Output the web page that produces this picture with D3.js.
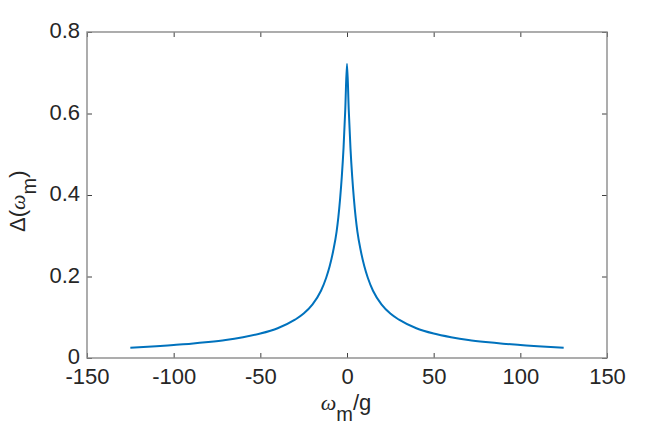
<!DOCTYPE html>
<html><head><meta charset="utf-8">
<script src="https://cdn.jsdelivr.net/npm/d3@7"></script>
<style>body{margin:0;background:#fff;} text{font-family:"Liberation Sans",Arial,Helvetica,sans-serif;}</style>
</head><body>
<svg id="c" width="671" height="427"></svg>
<script>
const xValues = [-125,-110,-100,-90,-80,-70,-60,-50,-40,-30,-25,-20,-15,-12,-10,-8,-6,-5,-4,-3,-2,-1,0,1,2,3,4,5,6,8,10,12,15,20,25,30,40,50,60,70,80,90,100,110,125];
const yValues = [0.025,0.029,0.032,0.035,0.039,0.044,0.051,0.060,0.073,0.094,0.109,0.131,0.165,0.197,0.225,0.262,0.31,0.345,0.39,0.445,0.515,0.61,0.722,0.61,0.515,0.445,0.39,0.345,0.31,0.262,0.225,0.197,0.165,0.131,0.109,0.094,0.073,0.060,0.051,0.044,0.039,0.035,0.032,0.029,0.025];
const xTicks = [-150,-100,-50,0,50,100,150];
const yTicks = [0,0.2,0.4,0.6,0.8];

const svg = d3.select("#c");
const L=87,R=607,T=32,B=358;
const x = d3.scaleLinear().domain([-150,150]).range([L,R]);
const y = d3.scaleLinear().domain([0,0.8]).range([B,T]);
const fmt = d => (d<0?"-":"")+Math.abs(d);
const tc="#262626";

function styleAxis(g, labels){
  g.select(".domain").remove();
  g.selectAll(".tick line").attr("stroke","#404040").attr("stroke-width",1);
  g.selectAll(".tick text").attr("fill",tc).attr("font-size",22);
  if(!labels) g.selectAll(".tick text").remove();
}
svg.append("g").attr("transform",`translate(0,${B})`)
  .call(d3.axisBottom(x).tickValues(xTicks).tickFormat(fmt).tickSizeInner(-5).tickSizeOuter(0).tickPadding(10))
  .call(g=>styleAxis(g,true));
svg.append("g").attr("transform",`translate(0,${T})`)
  .call(d3.axisTop(x).tickValues(xTicks).tickSizeInner(-5).tickSizeOuter(0))
  .call(g=>styleAxis(g,false));
svg.append("g").attr("transform",`translate(${L},0)`)
  .call(d3.axisLeft(y).tickValues(yTicks).tickFormat(d=>d===0?"0":d3.format(".1f")(d)).tickSizeInner(-5).tickSizeOuter(0).tickPadding(7))
  .call(g=>styleAxis(g,true))
  .call(g=>g.selectAll(".tick text").attr("dy","0.25em"));
svg.append("g").attr("transform",`translate(${R},0)`)
  .call(d3.axisRight(y).tickValues(yTicks).tickSizeInner(-5).tickSizeOuter(0))
  .call(g=>styleAxis(g,false));

svg.append("rect").attr("x",L).attr("y",T).attr("width",R-L).attr("height",B-T)
  .attr("fill","none").attr("stroke","#8a8a8a").attr("stroke-width",1.4);

const data = xValues.map((d,i)=>[d,yValues[i]]);
svg.append("path").datum(data)
  .attr("fill","none").attr("stroke","#0072BD").attr("stroke-width",2)
  .attr("d", d3.line().x(d=>x(d[0])).y(d=>y(d[1])).curve(d3.curveMonotoneX));

// x label
const xl = svg.append("text").attr("x",346).attr("y",410).attr("text-anchor","middle").attr("fill",tc).attr("font-size",22);
xl.append("tspan").attr("font-style","italic").attr("font-family","'Liberation Serif',serif").text("ω");
xl.append("tspan").attr("font-size",20).attr("dy",11).text("m");
xl.append("tspan").attr("dy",-11).text("/g");

// y label
const yl = svg.append("text").attr("transform",`translate(25,232) rotate(-90)`).attr("text-anchor","start").attr("fill",tc).attr("font-size",22);
yl.append("tspan").text("Δ(");
yl.append("tspan").attr("font-style","italic").attr("font-family","'Liberation Serif',serif").text("ω");
yl.append("tspan").attr("font-size",20).attr("dy",11).text("m");
yl.append("tspan").attr("dy",-11).text(")");
</script>
</body></html>
